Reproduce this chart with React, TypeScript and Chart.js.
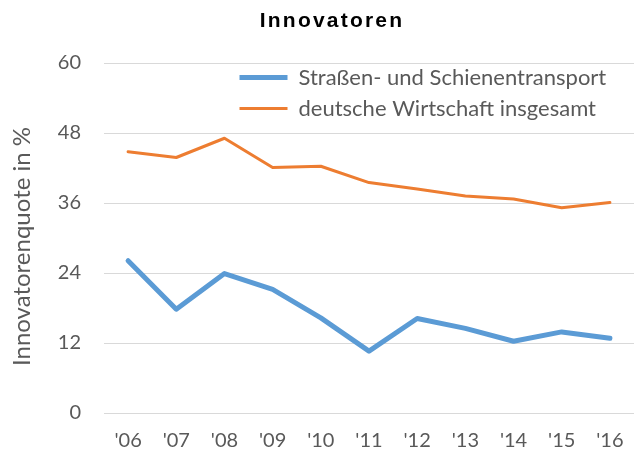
import React, { useEffect, useRef } from "react";
import { Chart, registerables } from "chart.js";

Chart.register(...registerables);

const categories = ["'06", "'07", "'08", "'09", "'10", "'11", "'12", "'13", "'14", "'15", "'16"];
const roadRail = [26.1, 17.8, 23.9, 21.2, 16.3, 10.6, 16.2, 14.5, 12.3, 13.9, 12.8];
const economy = [44.8, 43.8, 47.1, 42.1, 42.3, 39.5, 38.4, 37.2, 36.7, 35.2, 36.1];
const seriesNames = ["Straßen- und Schienentransport", "deutsche Wirtschaft insgesamt"];
const yMin = 0;
const yMax = 60;
const yStep = 12;
const chartTitle = "Innovatoren";
const yAxisTitle = "Innovatorenquote in %";

export default function App() {
  const ref = useRef<HTMLCanvasElement>(null);

  useEffect(() => {
    const canvas = ref.current;
    if (!canvas) return;
    const textColor = "#595959";
    const tickFont = { family: "Lato", size: 20 };

    const legendMove = {
      id: "legendMove",
      afterLayout(chart: any) {
        const lg = chart.legend;
        if (!lg) return;
        const w = lg.width;
        const h = lg.height;
        lg.left = 230.5;
        lg.top = 57.5;
        lg.right = lg.left + w;
        lg.bottom = lg.top + h;
      },
    };

    const texts = {
      id: "texts",
      afterDraw(chart: any) {
        const ctx = chart.ctx as CanvasRenderingContext2D;
        ctx.save();
        ctx.fillStyle = "#000000";
        ctx.font = "bold 21px 'Liberation Sans'";
        (ctx as any).letterSpacing = "2.2px";
        ctx.textAlign = "center";
        ctx.textBaseline = "alphabetic";
        ctx.fillText(chartTitle, 332, 27);
        ctx.restore();

        ctx.save();
        ctx.fillStyle = textColor;
        ctx.font = "24px Lato";
        ctx.translate(30, 246.5);
        ctx.rotate(-Math.PI / 2);
        ctx.textAlign = "center";
        ctx.textBaseline = "alphabetic";
        ctx.fillText(yAxisTitle, 0, 0);
        ctx.restore();
      },
    };

    const chart = new Chart(canvas, {
      type: "line",
      data: {
        labels: categories,
        datasets: [
          {
            label: seriesNames[0],
            data: roadRail,
            borderColor: "#5B9BD5",
            backgroundColor: "#5B9BD5",
            borderWidth: 5,
            pointRadius: 0,
            borderCapStyle: "round",
            borderJoinStyle: "round",
            tension: 0,
          },
          {
            label: seriesNames[1],
            data: economy,
            borderColor: "#ED7D31",
            backgroundColor: "#ED7D31",
            borderWidth: 3,
            pointRadius: 0,
            borderCapStyle: "round",
            borderJoinStyle: "round",
            tension: 0,
          },
        ],
      },
      options: {
        responsive: false,
        animation: false,
        layout: { padding: { top: 63, right: 0, bottom: -15, left: 0 } },
        plugins: {
          title: { display: false },
          tooltip: { enabled: false },
          legend: {
            display: true,
            position: "chartArea",
            align: "start",
            labels: {
              usePointStyle: true,
              pointStyle: "line",
              pointStyleWidth: 48,
              padding: 9,
              color: textColor,
              font: { family: "Lato", size: 22 },
            },
          },
        },
        scales: {
          x: {
            offset: true,
            grid: { display: false, drawTicks: false },
            border: { display: false },
            ticks: { padding: 16, color: textColor, font: tickFont, maxRotation: 0, autoSkip: false },
            afterFit(scale: any) {
              scale.paddingLeft = 0;
              scale.paddingRight = 0;
            },
          },
          y: {
            min: yMin,
            max: yMax,
            grid: { color: "#D9D9D9", lineWidth: 1, drawTicks: false },
            border: { display: false },
            ticks: { stepSize: yStep, padding: 23, color: textColor, font: tickFont },
            afterFit(scale: any) {
              scale.width = 104;
            },
          },
        },
      },
      plugins: [legendMove, texts],
    });

    return () => chart.destroy();
  }, []);

  return (
    <div style={{ position: "absolute", left: 0, top: 0, width: 634, height: 454, background: "#fff" }}>
      <canvas ref={ref} width={634} height={454} style={{ display: "block" }} />
    </div>
  );
}
